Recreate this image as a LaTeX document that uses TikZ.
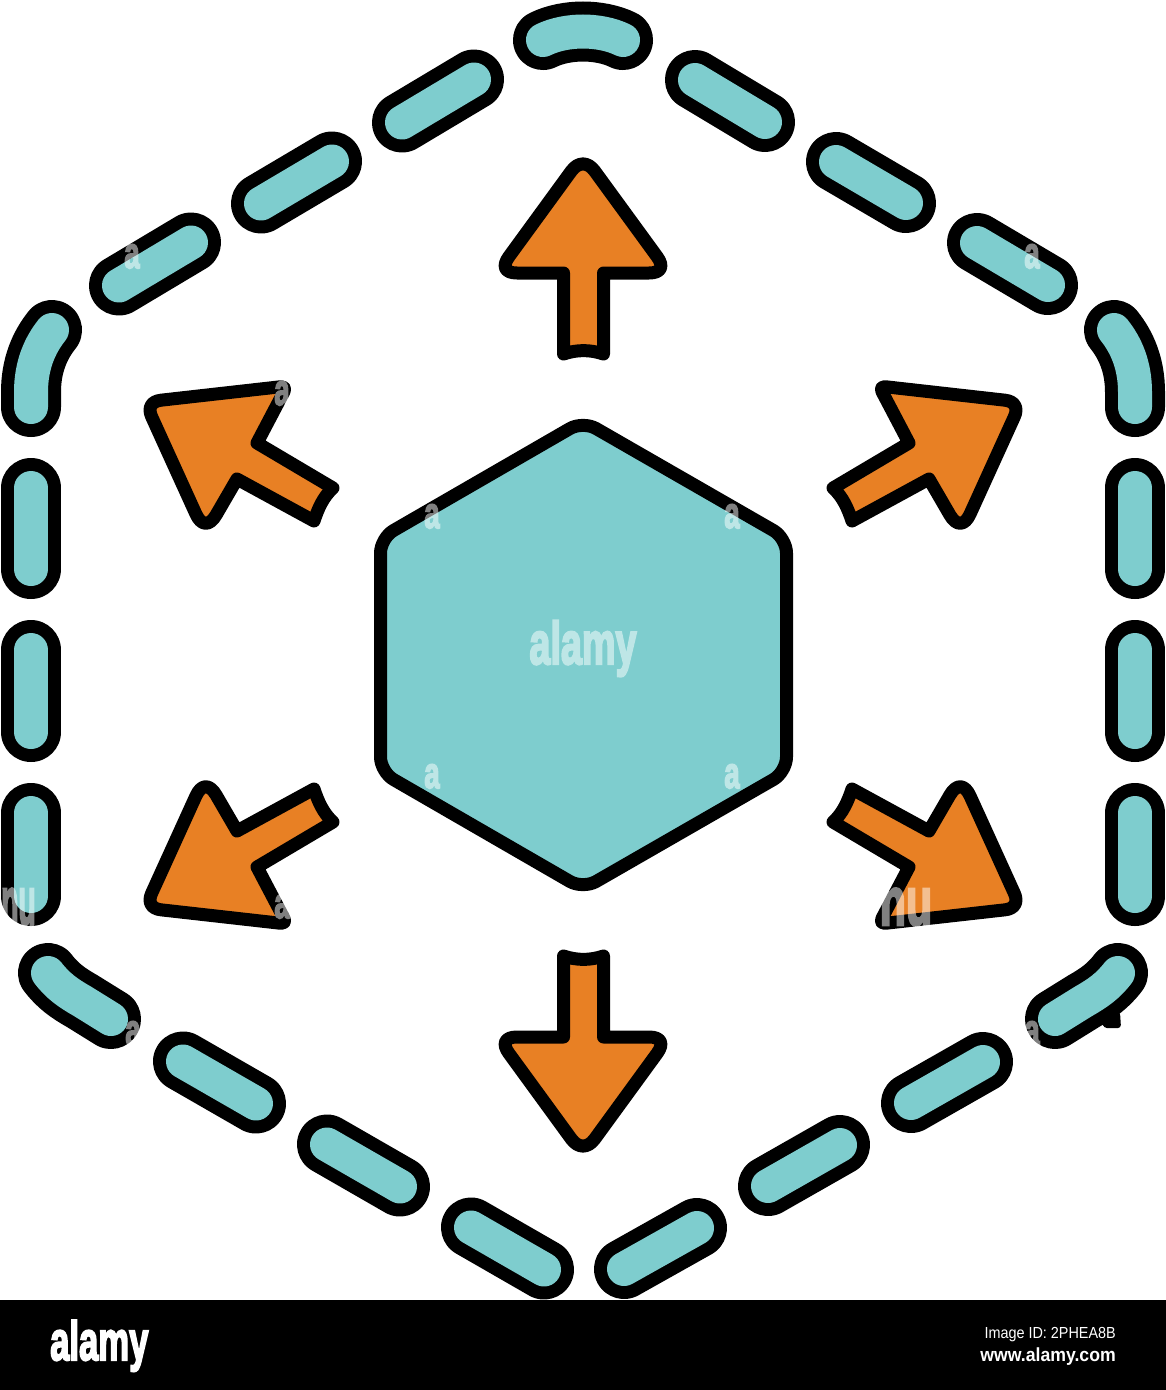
\documentclass[tikz,border=0pt]{standalone}
\usepackage{graphicx}
\usepackage{fontspec}
\usetikzlibrary{calc}
\setmainfont{Liberation Sans}
\newfontfamily\heavyfont[BoldFeatures={FakeBold=4}]{Liberation Sans}
\definecolor{tealfill}{HTML}{7ECDCE}
\definecolor{orangefill}{HTML}{E88024}
\newcommand{\wm}[1]{\scalebox{.63}[1]{\heavyfont\bfseries #1}}
% rounded corner: from the current point (#1) through corner (#2) to (#3)
\def\rc(#1)(#2)(#3){.. controls ($(#1)!.6!(#2)$) and ($(#3)!.6!(#2)$) .. (#3)}
\newcommand{\upperarrowshape}{\draw[arrowshape] (333,488) -- (257,443) -- (283.7,392.2) \rc(283.7,392.2)(287,386)(280,386.8) -- (160.9,400.2) \rc(160.9,400.2)(145,402)(151.6,416.6) -- (195.9,514) \rc(195.9,514)(205,534)(216.1,515) -- (237,479) -- (314,521) .. controls (318,509) and (323,497) .. cycle;}
\newcommand{\toparrowshape}{\draw[arrowshape] (563.5,354) -- (563.5,273) -- (517,273) \rc(517,273)(497,273)(508.8,256.8) -- (571.2,171.2) \rc(571.2,171.2)(583,155)(594.8,171.2) -- (657.2,256.8) \rc(657.2,256.8)(669,273)(649,273) -- (603.5,273) -- (603.5,354) .. controls (590,349.5) and (577,349.5) .. cycle;}
\tikzset{
  pill/.style={line width=13pt,double=tealfill,double distance=34pt,line cap=round},
  arrowshape/.style={fill=orangefill,draw=black,line width=13pt,line join=round},
  hexshape/.style={fill=tealfill,draw=black,line width=13pt,line join=round,rounded corners=15pt},
  wmark/.style={text=white,inner sep=0pt,font=\fontsize{44}{44}\selectfont},
  barbig/.style={text=white,inner sep=0pt,font=\fontsize{55}{55}\selectfont}
}
\begin{document}
\begin{tikzpicture}[x=1pt,y=-1pt]
\useasboundingbox (0,0) rectangle (1166,1390);
\fill[white] (0,0) rectangle (1166,1390);
% top arc
\draw[pill] (543,40) .. controls (555,34) and (570,31.5) .. (583,31.5) .. controls (596,31.5) and (611,34) .. (623,40);
% left side dashes
\draw[pill] (119,285.5) -- (191,242.5);
\draw[pill] (261,203.5) -- (332,161.5);
\draw[pill] (402,122.5) -- (474,79.5);
\draw[pill] (183,1061.5) -- (256,1103.5);
\draw[pill] (327,1144.5) -- (400,1186.5);
\draw[pill] (471,1227.5) -- (544,1269.5);
% right side dashes
\draw[pill] (695,80) -- (765,122);
\draw[pill] (836,162) -- (906,203);
\draw[pill] (977,243) -- (1048,285);
\draw[pill] (624,1269) -- (697,1228);
\draw[pill] (768,1186) -- (840,1145);
\draw[pill] (911,1103) -- (983,1062);
% vertical runs and corner dashes, mirrored
\foreach \sx/\ox in {1/0,-1/1166}{
\begin{scope}[shift={(\ox,0)},xscale=\sx]
  \draw[pill] (31,407) -- (31,392) .. controls (31,365) and (40,345) .. (52,330);
  \draw[pill] (31,488) -- (31,569);
  \draw[pill] (31,650) -- (31,732);
  \draw[pill] (31,813) -- (31,896);
  \draw[pill] (48,973) .. controls (58,986) and (68,993) .. (82,1001) -- (111,1019);
\end{scope}
}
\fill[black,rounded corners=3pt] (1100,1017) -- (1108,1009) -- (1120,1012) -- (1121,1028) -- (1104,1028) -- cycle;
% centre hexagon
\draw[hexshape] (583,421) -- (786.5,538) -- (786.5,772) -- (583,889) -- (380.5,772) -- (380.5,538) -- cycle;
% arrows
\toparrowshape
\begin{scope}[shift={(0,1310)},yscale=-1] \toparrowshape \end{scope}
\upperarrowshape
\begin{scope}[shift={(1166,0)},xscale=-1] \upperarrowshape \end{scope}
\begin{scope}[shift={(0,1310)},yscale=-1] \upperarrowshape \end{scope}
\begin{scope}[shift={(1166,1310)},xscale=-1,yscale=-1] \upperarrowshape \end{scope}
% watermark
\begin{scope}[transparency group,opacity=.5]
\node[wmark,font=\fontsize{60}{60}\selectfont,anchor=base] (wm0) at (583,664) {\wm{alamy}};
\node[wmark,anchor=base] (wm1) at (432,528) {\wm{a}};
\node[wmark,anchor=base] (wm2) at (732,528) {\wm{a}};
\node[wmark,anchor=base] (wm3) at (432,788) {\wm{a}};
\node[wmark,anchor=base] (wm4) at (732,788) {\wm{a}};
\node[wmark,anchor=base] (wm5) at (132,268) {\wm{a}};
\node[wmark,anchor=base] (wm6) at (1032,268) {\wm{a}};
\node[wmark,anchor=base] (wm7) at (282,405) {\wm{a}};
\node[wmark,anchor=base] (wm8) at (282,918) {\wm{a}};
\node[wmark,anchor=base] (wm9) at (133,1045) {\wm{a}};
\node[wmark,anchor=base] (wm10) at (1032,1045) {\wm{a}};
\node[wmark,anchor=base west,font=\fontsize{68}{68}\selectfont] (wm11) at (1,925) {\scalebox{.66}[1]{\wm{nu}}};
\node[wmark,anchor=base,font=\fontsize{68}{68}\selectfont] (wm12) at (906,925) {\wm{nu}};
\end{scope}
% bar
\fill[black] (0,1300) rectangle (1166,1390);
\node[barbig,anchor=base west] (barlogo) at (50,1360) {\wm{alamy}};
\node[text=white,inner sep=0pt,anchor=base east,font=\fontsize{16}{16}\selectfont] (barid) at (1116,1338) {\scalebox{.9}[1]{Image ID: 2PHEA8B}};
\node[text=white,inner sep=0pt,anchor=base east,font=\fontsize{19}{19}\bfseries] (barurl) at (1116,1361) {\scalebox{.93}[1]{www.alamy.com}};
\end{tikzpicture}
\end{document}
